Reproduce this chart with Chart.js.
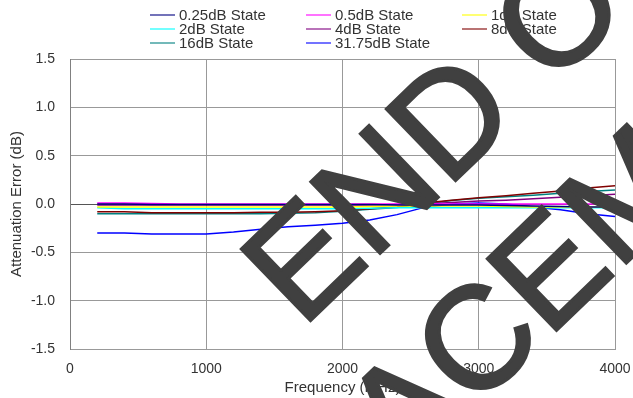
<!DOCTYPE html>
<html>
<head>
<meta charset="utf-8">
<script src="https://cdn.jsdelivr.net/npm/chart.js@4"></script>
<style>
  html, body { margin: 0; padding: 0; background: #ffffff; }
  canvas { display: block; }
</style>
</head>
<body>
<canvas id="chart" width="633" height="398"></canvas>
<script>
// Attenuation error vs. frequency for each attenuator state
const frequencies = [200, 400, 600, 800, 1000, 1200, 1400, 1600, 1800, 2000,
                     2200, 2400, 2600, 2800, 3000, 3200, 3400, 3600, 3800, 4000];

const seriesLabels = ['0.25dB State', '0.5dB State', '1dB State', '2dB State',
                      '4dB State', '8dB State', '16dB State', '31.75dB State'];

const state0p25 = [0.00, 0.00, -0.005, -0.005, -0.005, -0.005, -0.005, -0.005, -0.005, -0.005,
                   -0.005, -0.01, -0.01, -0.01, -0.01, -0.015, -0.02, -0.025, -0.03, -0.03];
const state0p5  = [0.01, 0.01, 0.005, 0.00, 0.00, 0.00, 0.00, 0.00, 0.00, 0.00,
                   0.00, 0.00, 0.00, 0.00, 0.00, 0.00, 0.00, 0.00, 0.00, 0.00];
const state1    = [-0.03, -0.03, -0.03, -0.03, -0.03, -0.03, -0.03, -0.03, -0.03, -0.03,
                   -0.025, -0.02, -0.02, -0.02, -0.02, -0.025, -0.03, -0.03, -0.03, -0.03];
const state2    = [-0.04, -0.05, -0.05, -0.05, -0.05, -0.05, -0.05, -0.05, -0.05, -0.05,
                   -0.045, -0.04, -0.035, -0.04, -0.04, -0.04, -0.04, -0.04, -0.04, -0.04];
const state4    = [-0.01, -0.01, -0.01, -0.01, -0.01, -0.01, -0.01, -0.01, -0.01, -0.01,
                   -0.01, -0.005, 0.00, 0.015, 0.03, 0.04, 0.055, 0.07, 0.085, 0.10];
const state8    = [-0.08, -0.08, -0.09, -0.09, -0.09, -0.09, -0.085, -0.085, -0.08, -0.07,
                   -0.05, -0.03, 0.01, 0.04, 0.065, 0.085, 0.11, 0.135, 0.165, 0.19];
const state16   = [-0.10, -0.10, -0.10, -0.10, -0.10, -0.10, -0.10, -0.095, -0.09, -0.075,
                   -0.055, -0.035, 0.00, 0.035, 0.06, 0.075, 0.09, 0.11, 0.13, 0.145];
const state31p75 = [-0.30, -0.30, -0.31, -0.31, -0.31, -0.29, -0.26, -0.235, -0.22, -0.20,
                    -0.165, -0.11, -0.035, 0.00, 0.01, 0.00, -0.03, -0.06, -0.10, -0.13];

const seriesValues = [state0p25, state0p5, state1, state2, state4, state8, state16, state31p75];
const seriesColors = ['#000080', '#ff00ff', '#ffff00', '#00ffff',
                      '#800080', '#800000', '#008080', '#0000ff'];

const yTicks = [-1.5, -1.0, -0.5, 0.0, 0.5, 1.0, 1.5];
const xTicks = [0, 1000, 2000, 3000, 4000];

const FONT = "'Liberation Sans', Arial, sans-serif";
const TEXT = '#333333';

const datasets = seriesLabels.map((label, i) => ({
  label,
  data: frequencies.map((f, j) => ({ x: f, y: seriesValues[i][j] })),
  borderColor: seriesColors[i],
  backgroundColor: seriesColors[i],
  borderWidth: 1.5,
  pointRadius: 0,
  tension: 0,
  fill: false
}));

// Three-column legend above the plot
const legendPlugin = {
  id: 'gridLegend',
  afterDraw(chart) {
    const ctx = chart.ctx;
    const colX = [150, 306, 462];
    const rowY = [15, 29, 43];
    ctx.save();
    ctx.font = '15px ' + FONT;
    ctx.textBaseline = 'middle';
    ctx.textAlign = 'left';
    chart.data.datasets.forEach((ds, i) => {
      const x = colX[i % 3];
      const y = rowY[Math.floor(i / 3)];
      ctx.strokeStyle = ds.borderColor;
      ctx.globalAlpha = 0.55;
      ctx.lineWidth = 2;
      ctx.beginPath();
      ctx.moveTo(x, y);
      ctx.lineTo(x + 25, y);
      ctx.stroke();
      ctx.globalAlpha = 1;
      ctx.fillStyle = TEXT;
      ctx.fillText(ds.label, x + 29, y + 1);
    });
    ctx.restore();
  }
};

// Large diagonal stamp across the drawing
const stampPlugin = {
  id: 'stamp',
  afterDraw(chart) {
    const ctx = chart.ctx;
    ctx.save();
    ctx.translate(302, 329);
    ctx.rotate(-44 * Math.PI / 180);
    ctx.font = '145px ' + FONT;
    ctx.textBaseline = 'alphabetic';
    ctx.textAlign = 'left';
    ctx.fillStyle = '#404040';
    ctx.strokeStyle = '#404040';
    ctx.lineWidth = 3;
    ctx.lineJoin = 'miter';
    ctx.fillText('END OF LIFE', 0, 0);
    ctx.strokeText('END OF LIFE', 0, 0);
    ctx.fillText('REPLACEMENT', -410, 178);
    ctx.strokeText('REPLACEMENT', -410, 178);
    ctx.restore();
  }
};

new Chart(document.getElementById('chart'), {
  type: 'line',
  data: { datasets },
  plugins: [legendPlugin, stampPlugin],
  options: {
    responsive: false,
    animation: false,
    devicePixelRatio: 1,
    layout: { padding: { left: 0, right: 18, top: 59, bottom: 0 } },
    plugins: {
      legend: { display: false },
      tooltip: { enabled: false }
    },
    scales: {
      x: {
        type: 'linear',
        min: 0,
        max: 4000,
        afterBuildTicks: (scale) => { scale.ticks = xTicks.map(v => ({ value: v })); },
        afterFit: (scale) => {
          scale.height = 49;
          scale.paddingLeft = 0;
          scale.paddingRight = 0;
        },
        ticks: {
          color: TEXT,
          font: { family: FONT, size: 14 },
          padding: 12,
          maxRotation: 0,
          callback: (v) => String(v)
        },
        grid: { color: '#999999', drawTicks: false, lineWidth: 1 },
        border: { color: '#999999' },
        title: {
          display: true,
          text: 'Frequency (MHz)',
          color: TEXT,
          font: { family: FONT, size: 15 },
          padding: { top: 0, bottom: 1 }
        }
      },
      y: {
        min: -1.5,
        max: 1.5,
        afterBuildTicks: (scale) => { scale.ticks = yTicks.map(v => ({ value: v })); },
        afterFit: (scale) => {
          scale.width = 70;
          scale.paddingTop = 0;
          scale.paddingBottom = 0;
        },
        ticks: {
          color: TEXT,
          font: { family: FONT, size: 14 },
          padding: 15,
          callback: (v) => Number(v).toFixed(1)
        },
        grid: {
          color: (c) => (c.tick && c.tick.value === 0 ? '#555555' : '#999999'),
          drawTicks: false,
          lineWidth: 1
        },
        border: { color: '#808080' },
        title: {
          display: true,
          text: 'Attenuation Error (dB)',
          color: TEXT,
          font: { family: FONT, size: 15 },
          padding: { top: 8, bottom: 0 }
        }
      }
    }
  }
});
</script>
</body>
</html>
